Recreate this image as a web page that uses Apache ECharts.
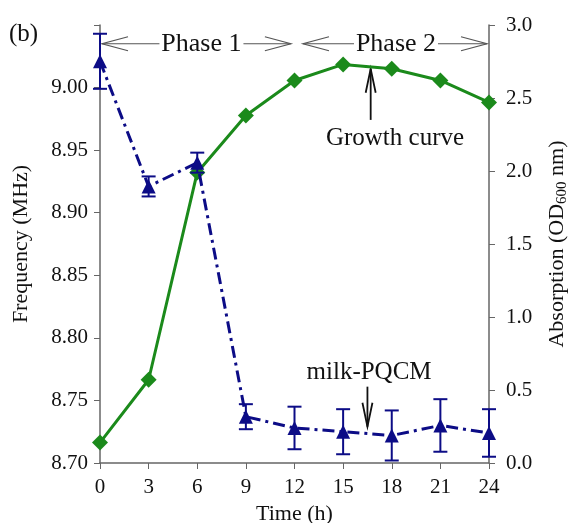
<!DOCTYPE html>
<html>
<head>
<meta charset="utf-8">
<script src="https://cdn.jsdelivr.net/npm/echarts@6/dist/echarts.min.js"></script>
<style>
  html, body { margin: 0; padding: 0; background: #fff; }
  #chart { width: 570px; height: 523px; }
</style>
</head>
<body>
<div id="chart"></div>
<script>
// time points (h)
const times = [0, 3, 6, 9, 12, 15, 18, 21, 24];
// milk-PQCM frequency (MHz) and its error
const freq = [9.021, 8.921, 8.940, 8.737, 8.728, 8.725, 8.722, 8.730, 8.724];
const freqErr = [0.022, 0.008, 0.008, 0.010, 0.017, 0.018, 0.020, 0.021, 0.019];
// growth curve, OD600
const absorb = [0.14, 0.57, 1.99, 2.38, 2.62, 2.73, 2.70, 2.62, 2.47];

const FONT = "Liberation Serif";
const BLUE = "#0c0c86";
const GREEN = "#1b8a1b";
const AXIS = "#666";

const chart = echarts.init(document.getElementById("chart"));

const freqPts = times.map((t, i) => [t, freq[i]]);
const absPts = times.map((t, i) => [t, absorb[i]]);
const errPts = times.map((t, i) => [t, freq[i] - freqErr[i], freq[i] + freqErr[i]]);

const option = {
  animation: false,
  grid: { left: 100, right: 81, top: 25, bottom: 60, containLabel: false, outerBoundsMode: "none" },
  xAxis: {
    type: "value",
    min: 0,
    max: 24,
    interval: 3,
    name: "Time (h)",
    nameLocation: "middle",
    nameGap: 32,
    nameTextStyle: { fontFamily: FONT, fontSize: 22, color: "#111" },
    axisLine: { lineStyle: { color: AXIS, width: 1.5 } },
    axisTick: { length: 6, lineStyle: { color: AXIS } },
    axisLabel: { fontFamily: FONT, fontSize: 21, color: "#111", margin: 14 },
    splitLine: { show: false },
  },
  yAxis: [
    {
      type: "value",
      min: 8.7,
      max: 9.05,
      interval: 0.05,
      name: "Frequency (MHz)",
      nameLocation: "middle",
      nameGap: 68,
      nameTextStyle: { fontFamily: FONT, fontSize: 22, color: "#111" },
      axisLine: { show: true, lineStyle: { color: AXIS, width: 1.5 } },
      axisTick: { show: true, length: 6, lineStyle: { color: AXIS } },
      axisLabel: {
        fontFamily: FONT,
        fontSize: 21,
        color: "#111",
        margin: 12,
        formatter: (v) => (v > 9.02 ? "" : v.toFixed(2)),
      },
      splitLine: { show: false },
    },
    {
      type: "value",
      min: 0,
      max: 3,
      interval: 0.5,
      position: "right",
      name: "Absorption (OD{sub|600} nm)",
      nameLocation: "middle",
      nameRotate: 90,
      nameGap: 56,
      nameTextStyle: {
        fontFamily: FONT,
        fontSize: 22,
        color: "#111",
        rich: {
          sub: { fontFamily: FONT, fontSize: 15, color: "#111", padding: [10, 0, 0, 0] },
        },
      },
      axisLine: { show: true, lineStyle: { color: AXIS, width: 1.5 } },
      axisTick: { show: true, length: 6, lineStyle: { color: AXIS } },
      axisLabel: {
        fontFamily: FONT,
        fontSize: 21,
        color: "#111",
        margin: 17,
        formatter: (v) => v.toFixed(1),
      },
      splitLine: { show: false },
    },
  ],
  series: [
    {
      name: "growth",
      type: "line",
      yAxisIndex: 1,
      data: absPts,
      symbol: "diamond",
      symbolSize: 16,
      itemStyle: { color: GREEN },
      lineStyle: { color: GREEN, width: 3 },
      z: 3,
    },
    {
      name: "freq-err",
      type: "custom",
      yAxisIndex: 0,
      data: errPts,
      encode: { x: 0, y: [1, 2] },
      renderItem: (params, api) => {
        const x = api.value(0);
        const lo = api.coord([x, api.value(1)]);
        const hi = api.coord([x, api.value(2)]);
        const w = 7;
        const style = { stroke: BLUE, lineWidth: 2 };
        return {
          type: "group",
          children: [
            { type: "line", shape: { x1: lo[0], y1: lo[1], x2: hi[0], y2: hi[1] }, style },
            { type: "line", shape: { x1: lo[0] - w, y1: lo[1], x2: lo[0] + w, y2: lo[1] }, style },
            { type: "line", shape: { x1: hi[0] - w, y1: hi[1], x2: hi[0] + w, y2: hi[1] }, style },
          ],
        };
      },
      z: 4,
    },
    {
      name: "freq",
      type: "line",
      yAxisIndex: 0,
      data: freqPts,
      symbol: "triangle",
      symbolSize: 14,
      itemStyle: { color: BLUE },
      lineStyle: { color: BLUE, width: 3, type: [12, 5, 3, 5] },
      z: 5,
    },
  ],
};

chart.setOption(option);

// annotations placed in data space
function px(x, y, axis) {
  return chart.convertToPixel({ xAxisIndex: 0, yAxisIndex: axis }, [x, y]);
}
const txt = { fontFamily: FONT, fontSize: 25, fill: "#111" };
const thin = { stroke: "#555", lineWidth: 1.2, fill: null };

function phaseArrow(x0, x1, label, shift) {
  const a = px(x0, 9.035, 0), b = px(x1, 9.035, 0);
  const y = a[1];
  const mid = (a[0] + b[0]) / 2 + shift;
  const half = 42;
  return [
    { type: "polyline", shape: { points: [[a[0] + 28, y - 7], [a[0] + 2, y], [a[0] + 28, y + 7]] }, style: thin },
    { type: "line", shape: { x1: a[0] + 2, y1: y, x2: mid - half, y2: y }, style: thin },
    { type: "line", shape: { x1: mid + half, y1: y, x2: b[0] - 2, y2: y }, style: thin },
    { type: "polyline", shape: { points: [[b[0] - 28, y - 7], [b[0] - 2, y], [b[0] - 28, y + 7]] }, style: thin },
    { type: "text", x: mid, y: y, style: Object.assign({ text: label, align: "center", verticalAlign: "middle" }, txt, { fontSize: 26 }) },
  ];
}

function vArrow(p, q) {
  // arrow from p to tip q
  const dir = q[1] > p[1] ? -1 : 1;
  const s = { stroke: "#111", lineWidth: 1.8, fill: null };
  return [
    { type: "line", shape: { x1: p[0], y1: p[1], x2: q[0], y2: q[1] }, style: s },
    { type: "polyline", shape: { points: [[q[0] - 5, q[1] + dir * 24], [q[0], q[1]], [q[0] + 5, q[1] + dir * 24]] }, style: s },
  ];
}

const g1a = px(16.7, 2.35, 1), g1b = px(16.7, 2.7, 1);
const gT = px(18.2, 2.22, 1);
const m1a = px(16.5, 8.761, 0), m1b = px(16.5, 8.729, 0);
const mT = px(16.6, 8.772, 0);

chart.setOption({
  graphic: [
    { type: "text", x: 9, y: 34, style: Object.assign({ text: "(b)", verticalAlign: "middle" }, txt) },
    ...phaseArrow(0, 11.9, "Phase 1", 5),
    ...phaseArrow(12.4, 24, "Phase 2", 1),
    ...vArrow(g1a, g1b),
    { type: "text", x: gT[0], y: gT[1], style: Object.assign({ text: "Growth curve", align: "center", verticalAlign: "middle" }, txt) },
    ...vArrow(m1a, m1b),
    { type: "text", x: mT[0], y: mT[1], style: Object.assign({ text: "milk-PQCM", align: "center", verticalAlign: "middle" }, txt) },
  ],
});

window.onresize = () => {
  chart.resize();
};
</script>
</body>
</html>
